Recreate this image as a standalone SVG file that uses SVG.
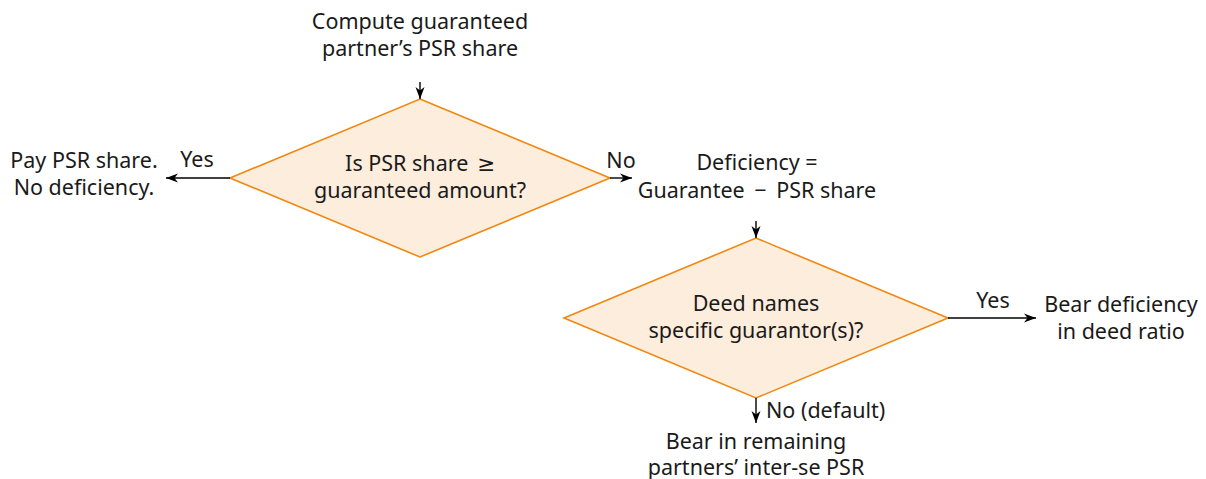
<svg xmlns="http://www.w3.org/2000/svg" width="1206" height="479" viewBox="0 0 1206 479">
<defs>
<marker id="ah" viewBox="0 0 12 10" refX="12" refY="5" markerWidth="12" markerHeight="10" markerUnits="userSpaceOnUse" orient="auto">
<path d="M0,0.5 L12,5 L0,9.5 L3.5,5 Z" fill="#000"/>
</marker>
<style>
text{font-family:"Noto Sans","DejaVu Sans",sans-serif;font-size:21.5px;fill:#1a1a1a;text-anchor:middle}
.d{fill:#fdeddc;stroke:#f0870f;stroke-width:1.6}
.c{stroke:#000;stroke-width:1.4;fill:none;marker-end:url(#ah)}
.l{text-anchor:start}
</style>
</defs>
<g id="start">
<text x="420" y="29">Compute guaranteed</text>
<text x="420" y="56">partner’s PSR share</text>
</g>
<g id="dec1">
<polygon class="d" points="420,99 610,178 420,257 230,178"/>
<text x="420" y="171">Is PSR share <tspan dx="3">≥</tspan></text>
<text x="420" y="198">guaranteed amount?</text>
</g>
<g id="pay">
<text x="84" y="168">Pay PSR share.</text>
<text x="84" y="195">No deficiency.</text>
</g>
<g id="deficiency">
<text x="757" y="170">Deficiency =</text>
<text x="757" y="198">Guarantee <tspan dx="4">−</tspan> <tspan dx="4">PSR share</tspan></text>
</g>
<g id="dec2">
<polygon class="d" points="756,238 948,318 756,398 564,318"/>
<text x="756" y="311">Deed names</text>
<text x="756" y="338">specific guarantor(s)?</text>
</g>
<g id="bear1">
<text x="1121" y="312">Bear deficiency</text>
<text x="1121" y="339">in deed ratio</text>
</g>
<g id="bear2">
<text x="756" y="449">Bear in remaining</text>
<text x="756" y="475">partners’ inter-se PSR</text>
</g>
<g id="connectors">
<line class="c" x1="420" y1="82" x2="420" y2="99"/>
<line class="c" x1="230" y1="178" x2="166" y2="178"/>
<text x="197" y="167">Yes</text>
<line class="c" x1="610" y1="178" x2="632" y2="178"/>
<text x="621" y="168">No</text>
<line class="c" x1="756" y1="221" x2="756" y2="238"/>
<line class="c" x1="948" y1="318" x2="1036" y2="318"/>
<text x="993" y="308">Yes</text>
<line class="c" x1="756" y1="398" x2="756" y2="423"/>
<text class="l" x="766" y="418">No (default)</text>
</g>
</svg>
